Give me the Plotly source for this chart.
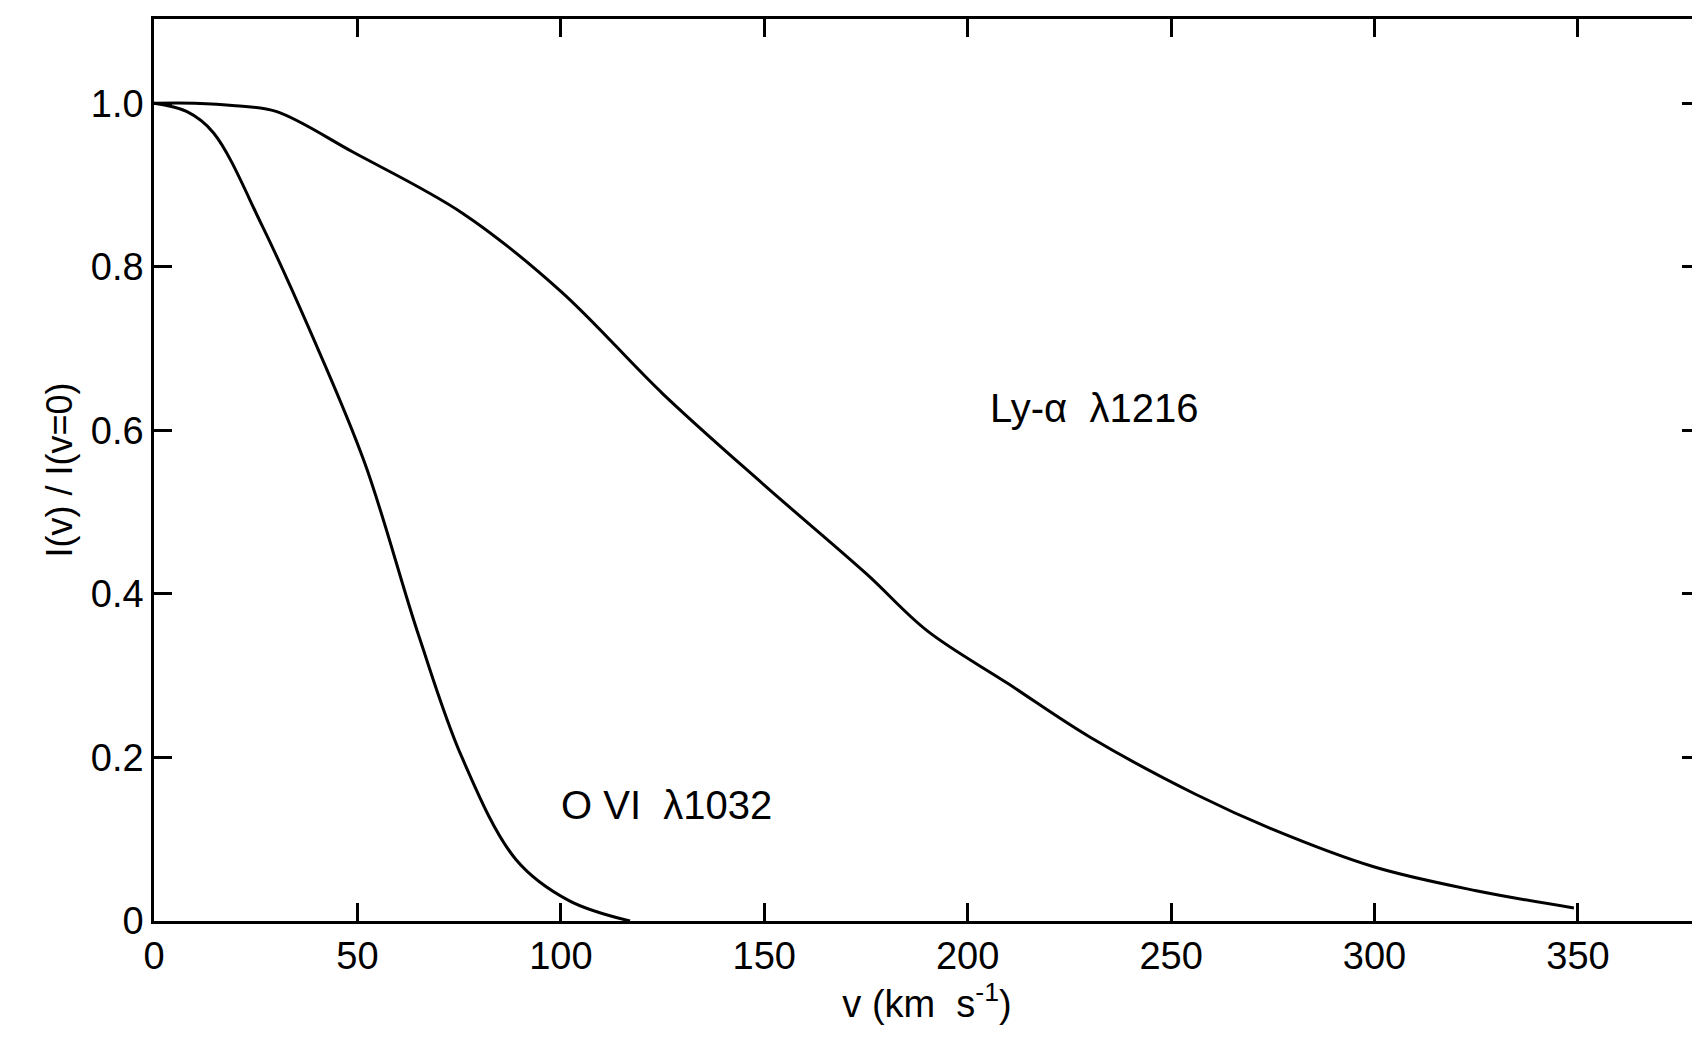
import plotly.graph_objects as go

# Ly-alpha 1216 profile
v_lya = [0, 10, 20, 30, 49, 76, 100, 125, 150, 175, 190, 210, 230, 256, 275, 300, 325, 349]
i_lya = [1.0, 1.0, 0.997, 0.99, 0.94, 0.865, 0.77, 0.645, 0.533, 0.425, 0.355, 0.29, 0.225, 0.155, 0.112, 0.066, 0.037, 0.016]

# O VI 1032 profile
v_ovi = [0, 8, 14.6, 26.6, 38.5, 51.8, 65, 75.7, 89, 102, 117]
i_ovi = [1.0, 0.99, 0.964, 0.85, 0.72, 0.56, 0.35, 0.2, 0.075, 0.025, 0.0]

x_ticks = [0, 50, 100, 150, 200, 250, 300, 350]
y_ticks = [0, 0.2, 0.4, 0.6, 0.8, 1.0]
y_labels = ["0", "0.2", "0.4", "0.6", "0.8", "1.0"]

FONT = "Liberation Sans"
line = dict(color="black", width=3, shape="spline", smoothing=1.0)

fig = go.Figure()
fig.add_trace(go.Scatter(x=v_lya, y=i_lya, mode="lines", line=line))
fig.add_trace(go.Scatter(x=v_ovi, y=i_ovi, mode="lines", line=line))

fig.add_annotation(x=231, y=0.627, text="Ly-α  λ1216", showarrow=False,
                   font=dict(size=40, family=FONT, color="black"))
fig.add_annotation(x=126, y=0.142, text="O VI  λ1032", showarrow=False,
                   font=dict(size=40, family=FONT, color="black"))

axis = dict(showgrid=False, zeroline=False, showline=True, linecolor="black",
            linewidth=2.5, mirror="ticks", ticklen=18, tickwidth=2.5,
            tickcolor="black", tickfont=dict(size=38, family=FONT, color="black"))
fig.update_xaxes(**axis, range=[0, 380], tickvals=x_ticks, ticks="inside",
                 title=dict(text="v (km  s<sup>-1</sup>)", font=dict(size=38, family=FONT, color="black"), standoff=0))
fig.update_yaxes(**axis, range=[0, 1.103], tickvals=y_ticks, ticktext=y_labels, ticks="inside",
                 title=dict(text="I(v) / I(v=0)", font=dict(size=36, family=FONT, color="black"), standoff=8))

fig.update_layout(width=1700, height=1039, showlegend=False,
                  plot_bgcolor="white", paper_bgcolor="white",
                  margin=dict(l=146, r=5, t=11, b=126))
fig.write_html("out.html")
